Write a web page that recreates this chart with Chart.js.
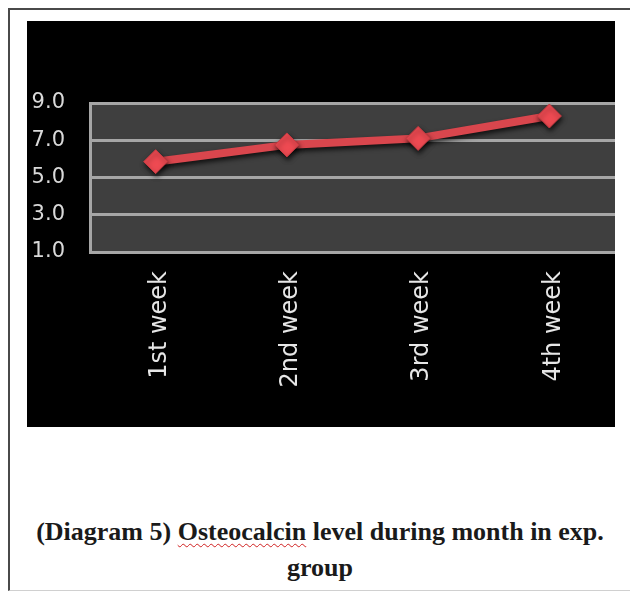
<!DOCTYPE html>
<html>
<head>
<meta charset="utf-8">
<script src="https://cdn.jsdelivr.net/npm/chart.js@4/dist/chart.umd.min.js"></script>
<style>
  html, body { margin: 0; padding: 0; background: #fff; }
  body { width: 630px; height: 594px; position: relative; overflow: hidden; }
  #frame {
    position: absolute; left: 8px; top: 8px; width: 640px; height: 580px;
    border-left: 2px solid #4a4a4a; border-top: 2px solid #4a4a4a;
    border-bottom: 1px solid #d0d0d0;
  }
  #box {
    position: absolute; left: 27px; top: 21px; width: 588px; height: 406px;
    background: #000; overflow: hidden;
  }
  #box canvas { display: block; }
  #caption {
    position: absolute; left: 10px; top: 514px; width: 620px;
    text-align: center; white-space: nowrap;
    font-family: "Liberation Serif", "Times New Roman", serif;
    font-weight: bold; font-size: 26px; line-height: 36px; color: #1a1a1a;
  }
  .spell {
    text-decoration: underline wavy #d02020;
    text-decoration-thickness: 1px;
    text-underline-offset: 3px;
  }
</style>
</head>
<body>
<div id="frame"></div>
<!-- the canvas is a little wider than its box so the plot runs flush to the box's right edge -->
<div id="box"><canvas id="chart" width="601" height="406"></canvas></div>
<div id="caption">(Diagram 5) <span class="spell">Osteocalcin</span> level during month in exp.<br>group</div>
<script>
// Osteocalcin level per week of the month (experimental group)
const weeks = ["1st week", "2nd week", "3rd week", "4th week"];
const osteocalcin = [5.85, 6.75, 7.1, 8.3];
const yTicks = [1, 3, 5, 7, 9];

// dark panel behind the plot and a soft drop shadow under the series
const panel = {
  id: "panel",
  beforeDraw(chart) {
    const { ctx, chartArea: a } = chart;
    ctx.save();
    ctx.fillStyle = "#000";
    ctx.fillRect(0, 0, chart.width, chart.height);
    ctx.fillStyle = "#3f3f3f";
    ctx.fillRect(a.left, a.top, a.right - a.left, a.bottom - a.top);
    ctx.restore();
  },
  beforeDatasetDraw(chart) {
    const ctx = chart.ctx;
    ctx.save();
    ctx.shadowColor = "rgba(0,0,0,0.75)";
    ctx.shadowBlur = 5;
    ctx.shadowOffsetX = 1;
    ctx.shadowOffsetY = 3;
  },
  afterDatasetDraw(chart) {
    chart.ctx.restore();
  }
};

new Chart(document.getElementById("chart"), {
  type: "line",
  data: {
    labels: weeks,
    datasets: [{
      data: osteocalcin,
      borderColor: "#d9464d",
      borderWidth: 8,
      pointStyle: "rectRot",
      pointRadius: 12,
      pointBackgroundColor: "#ee4a52",
      pointBorderColor: "#c63a41",
      pointBorderWidth: 1,
      tension: 0
    }]
  },
  options: {
    responsive: false,
    animation: false,
    events: [],
    layout: { padding: { top: 82, right: 0, bottom: 0, left: 0 } },
    plugins: { legend: { display: false }, tooltip: { enabled: false } },
    scales: {
      x: {
        offset: true,
        afterFit(s) {
          s.height = 175;
        },
        grid: { display: false, drawTicks: false },
        border: { display: true, color: "#a6a6a6", width: 3 },
        ticks: {
          autoSkip: false,
          minRotation: 90,
          maxRotation: 90,
          padding: 19,
          labelOffset: 4,
          color: "#e6e6e6",
          font: { family: "DejaVu Sans", size: 24 }
        }
      },
      y: {
        min: 1,
        max: 9,
        afterFit(s) {
          s.width = 63;
        },
        afterBuildTicks(s) { s.ticks = yTicks.map(v => ({ value: v })); },
        grid: { color: "#a6a6a6", lineWidth: 3, drawTicks: false },
        border: { display: true, color: "#a6a6a6", width: 3 },
        ticks: {
          padding: 25,
          color: "#d9d9d9",
          font: { family: "DejaVu Sans", size: 21 },
          callback: v => Number(v).toFixed(1)
        }
      }
    }
  },
  plugins: [panel]
});
</script>
</body>
</html>
